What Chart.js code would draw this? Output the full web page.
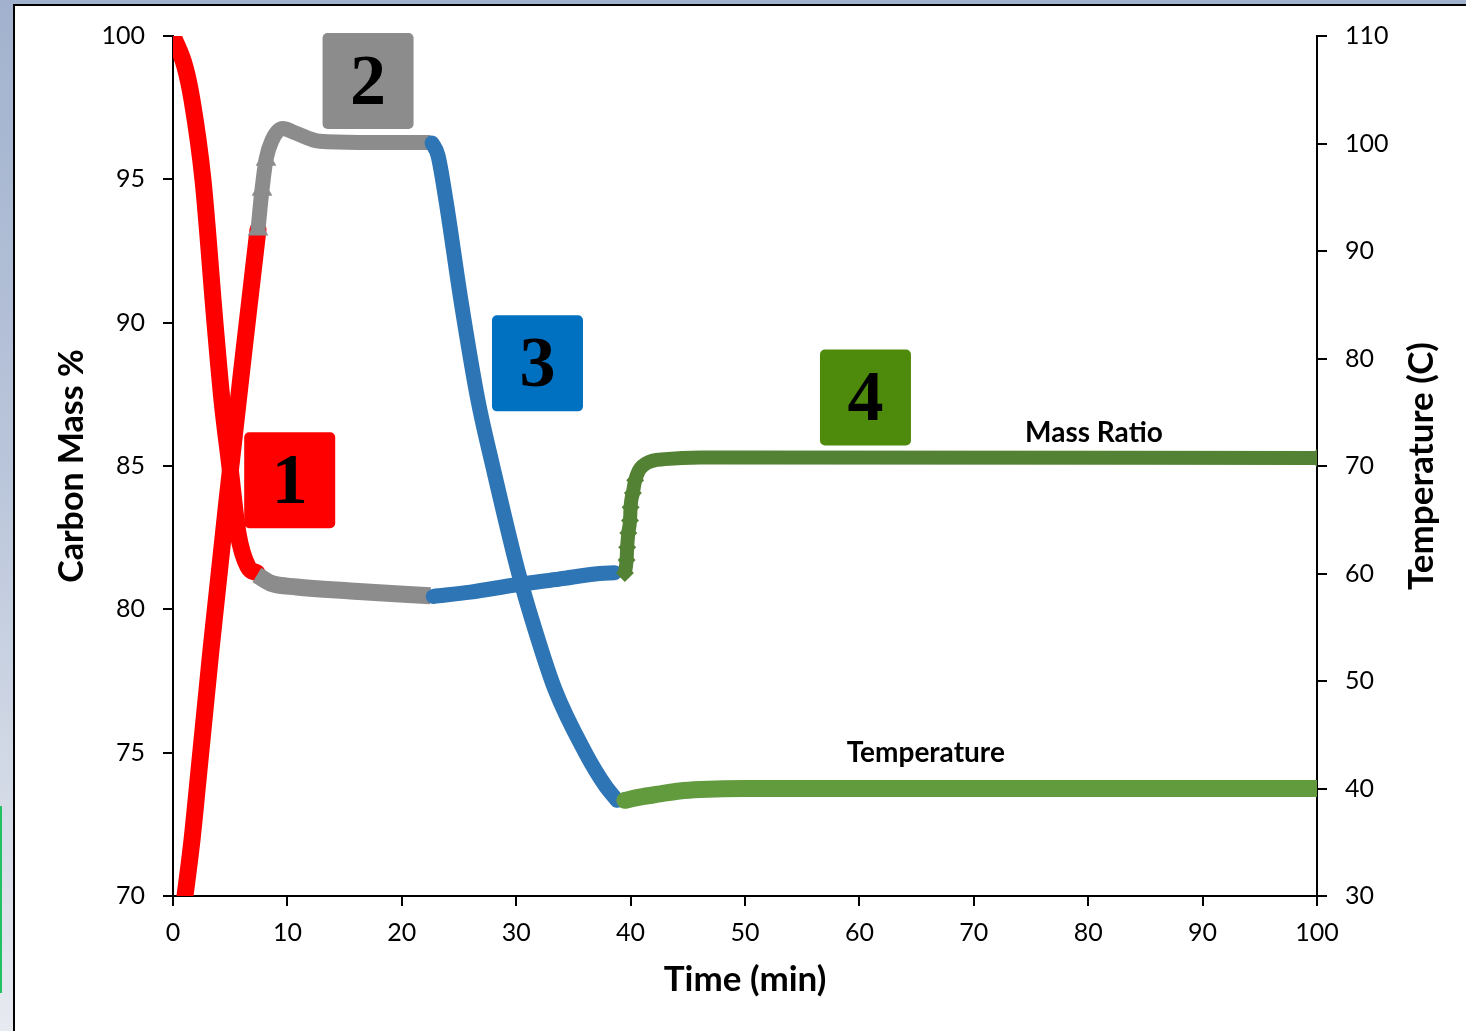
<!DOCTYPE html>
<html>
<head>
<meta charset="utf-8">
<script src="https://cdn.jsdelivr.net/npm/chart.js@4.4.1/dist/chart.umd.min.js"></script>
<style>
  html, body { margin: 0; padding: 0; }
  body {
    width: 1466px; height: 1031px; overflow: hidden; position: relative;
    background: linear-gradient(to bottom, #a2b2ce 0%, #b9c5da 45%, #e7eaf0 100%);
  }
  #panel {
    position: absolute; left: 13px; top: 4px; width: 1470px; height: 1040px;
    background: #ffffff; border-left: 2px solid #000; border-top: 2px solid #000;
  }
  #edge { position: absolute; left: 0; top: 806px; width: 2px; height: 187px; background: #22c264; }
  canvas { position: absolute; left: 0; top: 0; }
</style>
</head>
<body>
<div id="panel"></div>
<div id="edge"></div>
<canvas id="chart" width="1466" height="1031"></canvas>
<script>
// ---- Stage 1: heating (carbon mass falls, temperature rises) ----
const s1MassTime = [0, 1.05, 1.66, 2.62, 3.67, 4.28, 4.98, 5.68, 6.56, 7.34];
const s1Mass     = [100, 98.92, 97.77, 94.98, 89.99, 87.3, 84.97, 82.66, 81.48, 81.27];
const s1TempTime = [1.05, 1.66, 2.19, 3.32, 4.72, 6.21, 7.43];
const s1Temp     = [30.0, 35.2, 40.8, 52.9, 66.8, 80.8, 92.0];

// ---- Stage 2: hold at ~100 C ----
const s2MassTime = [7.34, 8.5, 10.8, 15.5, 22.5];
const s2Mass     = [81.2, 80.92, 80.78, 80.64, 80.47];
const s2TempTime = [7.43, 7.78, 8.13, 8.65, 9.6, 10.66, 12.85, 16.3, 22.5];
const s2Temp     = [92.0, 95.7, 98.5, 100.3, 101.4, 101.0, 100.2, 100.1, 100.1];

// ---- Stage 3: cooling ----
const s3MassTime = [22.75, 26.0, 29.9, 33.8, 37.3, 38.6];
const s3Mass     = [80.45, 80.6, 80.85, 81.06, 81.25, 81.28];
const s3TempTime = [22.64, 23.16, 23.86, 25.17, 26.66, 27.97, 30.07, 31.38, 33.39, 36.01, 37.76, 38.81];
const s3Temp     = [100.05, 98.9, 94.7, 85.4, 76.1, 69.9, 60.6, 55.7, 49.2, 43.4, 40.3, 38.9];

// ---- Stage 4: hold at ~40 C ----
const s4MassTime = [39.5, 39.65, 39.7, 39.8, 39.95, 40.0, 40.2, 40.4, 41.4, 43.0, 46.1, 100];
const s4Mass     = [81.27, 81.72, 82.17, 82.66, 83.1, 83.56, 84.06, 84.5, 85.1, 85.24, 85.3, 85.28];
const s4TempTime = [39.5, 40.8, 42.6, 44.3, 46.1, 50, 100];
const s4Temp     = [38.9, 39.2, 39.5, 39.77, 39.9, 40.0, 40.0];

// ---- Axis ticks ----
const timeTicks = [0, 10, 20, 30, 40, 50, 60, 70, 80, 90, 100];
const massTicks = [70, 75, 80, 85, 90, 95, 100];
const tempTicks = [30, 40, 50, 60, 70, 80, 90, 100, 110];

// ---- Stage markers and curve labels (anchored in data units) ----
const stageLabels = ['1', '2', '3', '4'];
const stageTime   = [10.2, 17.05, 31.86, 60.53];
const stageMass   = [84.5, 98.43, 88.58, 87.39];
const stageColors = ['#FF0000', '#8C8C8C', '#0070C0', '#4E8A0C'];

const toPoints = (xs, ys) => xs.map((x, i) => ({ x, y: ys[i] }));

const FONT = 'Lato, "Open Sans", sans-serif';

function series(label, xs, ys, axis, color, width, order, extra) {
  return Object.assign({
    label,
    data: toPoints(xs, ys),
    yAxisID: axis,
    showLine: true,
    borderColor: color,
    backgroundColor: color,
    pointBackgroundColor: color,
    borderWidth: width,
    borderCapStyle: 'round',
    borderJoinStyle: 'round',
    cubicInterpolationMode: 'monotone',
    pointRadius: 0,
    pointHoverRadius: 0,
    pointBorderWidth: 0,
    order
  }, extra || {});
}

const lastMass4 = s4MassTime.length - 1;

const datasets = [
  series('Mass stage 1', s1MassTime, s1Mass, 'yMass', '#FF0000', 17, 8),
  series('Temperature stage 1', s1TempTime, s1Temp, 'yTemp', '#FF0000', 17, 7),
  series('Temperature stage 2', s2TempTime, s2Temp, 'yTemp', '#8C8C8C', 15, 6, {
    borderCapStyle: 'butt',
    pointStyle: 'triangle',
    pointRadius: ctx => (ctx.dataIndex < 3 ? 12 : 0)
  }),
  series('Temperature stage 3', s3TempTime, s3Temp, 'yTemp', '#2E75B6', 15, 5),
  series('Mass stage 2', s2MassTime, s2Mass, 'yMass', '#8C8C8C', 17, 4, { borderCapStyle: 'butt' }),
  series('Mass stage 3', s3MassTime, s3Mass, 'yMass', '#2E75B6', 15, 3),
  series('Mass stage 4', s4MassTime, s4Mass, 'yMass', '#548235', 14, 2, {
    borderCapStyle: 'butt',
    pointStyle: 'rectRot',
    pointRadius: ctx => (ctx.dataIndex < 8 || ctx.dataIndex === lastMass4 ? 9 : 0)
  }),
  series('Temperature stage 4', s4TempTime, s4Temp, 'yTemp', '#629A3E', 17, 1)
];

function axisOpts(position, min, max, tickValues, fitSize) {
  return {
    type: 'linear',
    position,
    min, max,
    afterBuildTicks: scale => { scale.ticks = tickValues.map(v => ({ value: v })); },
    afterFit: scale => {
      if (position === 'bottom') scale.height = fitSize; else scale.width = fitSize;
    },
    grid: {
      drawOnChartArea: false,
      drawTicks: true,
      tickLength: 10,
      color: '#000',
      lineWidth: 2
    },
    border: { display: true, color: '#000', width: 2 },
    ticks: {
      color: '#000',
      font: { family: FONT, size: 25 },
      padding: position === 'bottom' ? 12 : 18,
      autoSkip: false,
      maxRotation: 0
    }
  };
}

// Stage boxes, curve labels and axis titles
const decorations = {
  id: 'decorations',
  afterDatasetsDraw(chart) {
    const { ctx, scales } = chart;
    const x = scales.x, yM = scales.yMass, yT = scales.yTemp;
    ctx.save();
    const bw = 91, bh = 96;
    stageLabels.forEach((lab, i) => {
      const cx = x.getPixelForValue(stageTime[i]);
      const cy = yM.getPixelForValue(stageMass[i]);
      ctx.fillStyle = stageColors[i];
      ctx.beginPath();
      ctx.roundRect(cx - bw / 2, cy - bh / 2, bw, bh, 5);
      ctx.fill();
      ctx.fillStyle = '#000';
      ctx.font = 'bold 72px "Liberation Serif", "Times New Roman", serif';
      ctx.textAlign = 'center';
      ctx.textBaseline = 'middle';
      ctx.fillText(lab, cx, cy + 4);
    });

    ctx.fillStyle = '#000';
    ctx.font = 'bold 28px ' + FONT;
    ctx.textAlign = 'center';
    ctx.textBaseline = 'middle';
    ctx.fillText('Mass Ratio', x.getPixelForValue(80.5), yM.getPixelForValue(86.15));
    ctx.fillText('Temperature', x.getPixelForValue(65.8), yT.getPixelForValue(43.3));

    // axis titles
    const area = chart.chartArea;
    ctx.font = 'bold 35px ' + FONT;
    ctx.fillText('Time (min)', (area.left + area.right) / 2, area.bottom + 84);

    ctx.save();
    ctx.font = 'bold 34px ' + FONT;
    ctx.translate(area.left - 101, (area.top + area.bottom) / 2);
    ctx.rotate(-Math.PI / 2);
    ctx.fillText('Carbon Mass %', 0, 0);
    ctx.restore();

    ctx.save();
    ctx.font = 'bold 35px ' + FONT;
    ctx.translate(area.right + 105, (area.top + area.bottom) / 2);
    ctx.rotate(-Math.PI / 2);
    ctx.fillText('Temperature (C)', 0, 0);
    ctx.restore();

    ctx.restore();
  }
};

new Chart(document.getElementById('chart'), {
  type: 'scatter',
  data: { datasets },
  options: {
    responsive: false,
    animation: false,
    devicePixelRatio: 1,
    layout: { padding: { top: 36, left: 0, right: 0, bottom: 0 } },
    plugins: { legend: { display: false }, tooltip: { enabled: false } },
    scales: {
      x: axisOpts('bottom', 0, 100, timeTicks, 135),
      yMass: axisOpts('left', 70, 100, massTicks, 173),
      yTemp: axisOpts('right', 30, 110, tempTicks, 149)
    }
  },
  plugins: [decorations]
});
</script>
</body>
</html>
